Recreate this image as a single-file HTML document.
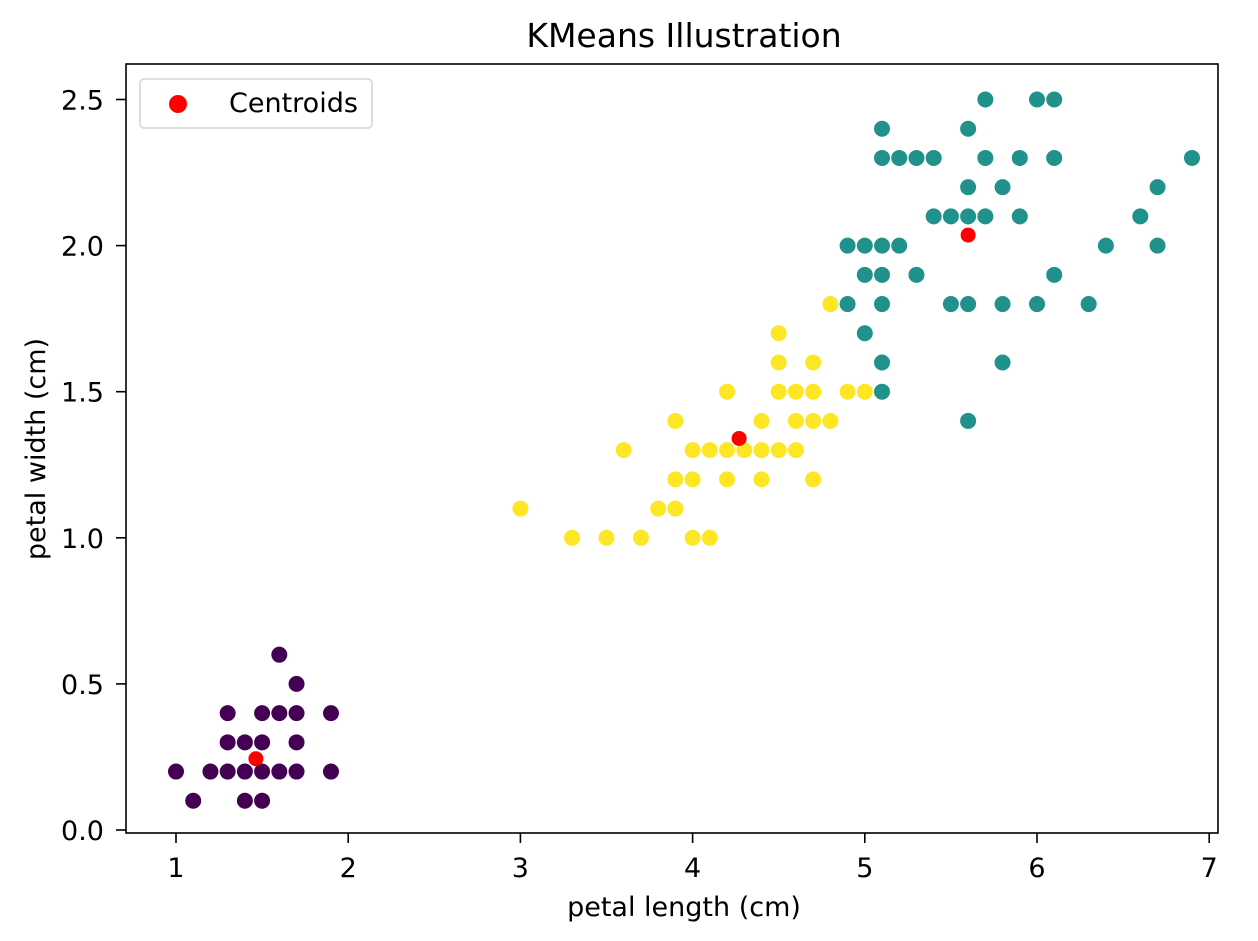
<!DOCTYPE html>
<html><head><meta charset="utf-8"><style>
body{margin:0;background:#fff;}
svg text{font-family:"DejaVu Sans","Liberation Sans",sans-serif;fill:#000;}
</style></head><body>
<svg id="chart" width="1258" height="936" xmlns="http://www.w3.org/2000/svg">
<rect width="1258" height="936" fill="#fff"/>
<g id="marks"></g>
<g id="axes"></g>
</svg>
<script>
const cluster0 = [[1.0,0.2],[1.1,0.1],[1.2,0.2],[1.3,0.2],[1.3,0.3],[1.3,0.4],[1.4,0.1],[1.4,0.2],[1.4,0.3],[1.5,0.1],[1.5,0.2],[1.5,0.3],[1.5,0.4],[1.6,0.2],[1.6,0.4],[1.6,0.6],[1.7,0.2],[1.7,0.3],[1.7,0.4],[1.7,0.5],[1.9,0.2],[1.9,0.4]];
const cluster1 = [[4.9,1.8],[4.9,2.0],[5.0,1.7],[5.0,1.9],[5.0,2.0],[5.1,1.5],[5.1,1.6],[5.1,1.8],[5.1,1.9],[5.1,2.0],[5.1,2.3],[5.1,2.4],[5.2,2.0],[5.2,2.3],[5.3,1.9],[5.3,2.3],[5.4,2.1],[5.4,2.3],[5.5,1.8],[5.5,2.1],[5.6,1.4],[5.6,1.8],[5.6,2.1],[5.6,2.2],[5.6,2.4],[5.7,2.1],[5.7,2.3],[5.7,2.5],[5.8,1.6],[5.8,1.8],[5.8,2.2],[5.9,2.1],[5.9,2.3],[6.0,1.8],[6.0,2.5],[6.1,1.9],[6.1,2.3],[6.1,2.5],[6.3,1.8],[6.4,2.0],[6.6,2.1],[6.7,2.0],[6.7,2.2],[6.9,2.3]];
const cluster2 = [[3.0,1.1],[3.3,1.0],[3.5,1.0],[3.6,1.3],[3.7,1.0],[3.8,1.1],[3.9,1.1],[3.9,1.2],[3.9,1.4],[4.0,1.0],[4.0,1.2],[4.0,1.3],[4.1,1.0],[4.1,1.3],[4.2,1.2],[4.2,1.3],[4.2,1.5],[4.3,1.3],[4.4,1.2],[4.4,1.3],[4.4,1.4],[4.5,1.3],[4.5,1.5],[4.5,1.6],[4.5,1.7],[4.6,1.3],[4.6,1.4],[4.6,1.5],[4.7,1.2],[4.7,1.4],[4.7,1.5],[4.7,1.6],[4.8,1.4],[4.8,1.8],[4.9,1.5],[5.0,1.5]];
const centroids = [[1.464,0.244],[4.27,1.34],[5.60,2.036]];
const xTicks = [1,2,3,4,5,6,7];
const yTicks = [0.0,0.5,1.0,1.5,2.0,2.5];

const L=126,T=64,R=1218,B=833;
const x = v => 3.8 + (v)*172.2;
const y = v => 830 - v*292.2;
const NS='http://www.w3.org/2000/svg';
const marks=document.getElementById('marks'), axes=document.getElementById('axes');
function mk(tag,attrs,parent){const e=document.createElementNS(NS,tag);for(const k in attrs)e.setAttribute(k,attrs[k]);parent.appendChild(e);return e;}
function drawSet(arr,color,name,r){
  arr.forEach(p=>{
    const c=mk('circle',{cx:x(p[0]),cy:y(p[1]),r:r,fill:color},marks);
    
    
  });
}
drawSet(cluster0,'#440154','cluster-0-point',8);
drawSet(cluster1,'#21918c','cluster-1-point',8);
drawSet(cluster2,'#fde725','cluster-2-point',8);
drawSet(centroids,'#ff0000','centroid-point',7.5);

const frame=mk('rect',{x:L,y:T,width:R-L,height:B-T,fill:'none',stroke:'#000','stroke-width':1.6},axes);


xTicks.forEach(t=>{
  const X=x(t);
  mk('line',{x1:X,x2:X,y1:B,y2:B+10,stroke:'#000','stroke-width':1.6},axes);
  const tx=mk('text',{x:X,y:B+44,'text-anchor':'middle','font-size':27},axes);
  tx.textContent=String(t);
  
  
});
yTicks.forEach(t=>{
  const Y=y(t);
  mk('line',{x1:L-10,x2:L,y1:Y,y2:Y,stroke:'#000','stroke-width':1.6},axes);
  const tx=mk('text',{x:L-22,y:Y+10,'text-anchor':'end','font-size':27},axes);
  tx.textContent=t.toFixed(1);
  
  
});
</script>
<svg style="position:absolute;left:0;top:0" width="1258" height="936" xmlns="http://www.w3.org/2000/svg">
<text x="684" y="47" text-anchor="middle" font-size="33">KMeans Illustration</text>
<text x="684" y="916" text-anchor="middle" font-size="27">petal length (cm)</text>
<text transform="translate(45,449) rotate(-90)" text-anchor="middle" font-size="27">petal width (cm)</text>
<g>
<rect x="140" y="79" width="232" height="49" rx="4" fill="#fff" fill-opacity="0.8" stroke="#d6d6d6" stroke-width="1.6"/>
<circle cx="178" cy="104" r="9" fill="#ff0000"/>
<text x="229" y="112" font-size="27">Centroids</text>
</g>
</svg>
</body></html>
